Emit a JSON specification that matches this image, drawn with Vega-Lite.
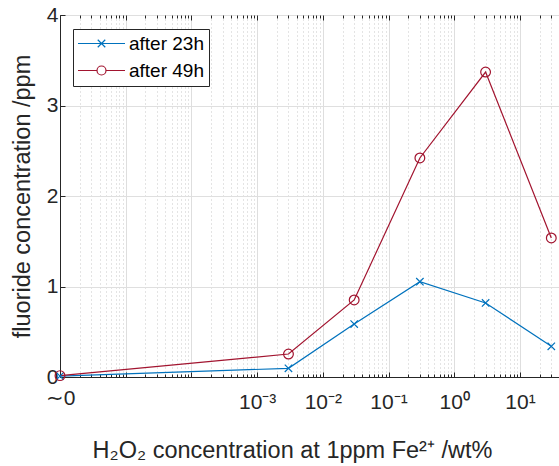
{
  "$schema": "https://vega.github.io/schema/vega-lite/v6.json",
  "width": 499,
  "height": 362,
  "autosize": "none",
  "padding": {"left": 60, "top": 15, "right": 0, "bottom": 89},
  "background": "white",
  "config": {
    "view": {"stroke": "#262626", "strokeWidth": 1},
    "font": "Liberation Sans",
    "axis": {"labelFont": "Liberation Sans", "titleFont": "Liberation Sans", "labelColor": "#262626", "titleColor": "#262626", "tickColor": "#262626", "domainColor": "#262626", "titleFontWeight": "normal"}
  },
  "data": {
    "values": [
      {"series": "after 23h", "x": 0.000001, "y": 0.01},
      {"series": "after 23h", "x": 0.003, "y": 0.096},
      {"series": "after 23h", "x": 0.03, "y": 0.585},
      {"series": "after 23h", "x": 0.3, "y": 1.053},
      {"series": "after 23h", "x": 3, "y": 0.818},
      {"series": "after 23h", "x": 30, "y": 0.339},
      {"series": "after 49h", "x": 0.000001, "y": 0.015},
      {"series": "after 49h", "x": 0.003, "y": 0.254},
      {"series": "after 49h", "x": 0.03, "y": 0.851},
      {"series": "after 49h", "x": 0.3, "y": 2.42},
      {"series": "after 49h", "x": 3, "y": 3.37},
      {"series": "after 49h", "x": 30, "y": 1.536}
    ]
  },
  "resolve": {"axis": {"x": "independent", "y": "independent"}, "legend": {"color": "independent", "shape": "independent"}, "scale": {"shape": "independent"}},
  "layer": [
    {
      "mark": {"type": "line", "opacity": 0},
      "encoding": {
        "x": {"field": "x", "type": "quantitative", "scale": {"type": "log", "domain": [0.000001, 39.3], "nice": false},
          "axis": {"orient": "bottom", "values": [2e-6,3e-6,4e-6,5e-6,6e-6,7e-6,8e-6,9e-6,2e-5,3e-5,4e-5,5e-5,6e-5,7e-5,8e-5,9e-5,2e-4,3e-4,4e-4,5e-4,6e-4,7e-4,8e-4,9e-4,0.002,0.003,0.004,0.005,0.006,0.007,0.008,0.009,0.02,0.03,0.04,0.05,0.06,0.07,0.08,0.09,0.2,0.3,0.4,0.5,0.6,0.7,0.8,0.9,2,3,4,5,6,7,8,9,20,30],
            "grid": true, "gridColor": "#c8c8c8", "gridDash": [1, 3], "labels": false, "ticks": true, "tickSize": -3, "domain": false, "title": null}},
        "y": {"field": "y", "type": "quantitative", "scale": {"domain": [0, 4], "nice": false},
          "axis": {"values": [0, 1, 2, 3, 4], "grid": true, "gridColor": "#dfdfdf", "tickSize": -5, "labelFontSize": 21, "labelPadding": 7, "title": "fluoride concentration /ppm", "titleFontSize": 23.5, "titleX": -31, "titleBaseline": "alphabetic"}},
        "detail": {"field": "series"}
      }
    },
    {
      "mark": {"type": "line", "strokeWidth": 1.2},
      "encoding": {
        "x": {"field": "x", "type": "quantitative", "scale": {"type": "log", "domain": [0.000001, 39.3], "nice": false},
          "axis": {"orient": "bottom", "values": [0.000001, 0.00001, 0.0001, 0.001, 0.01, 0.1, 1, 10],
            "grid": true, "gridColor": "#dedede", "tickSize": -5, "labelFontSize": 21,
            "labelPadding": {"condition": {"test": "datum.value < 2e-6", "value": 15}, "value": 19},
            "labelExpr": "datum.value < 2e-6 ? '∼0' : datum.value < 5e-4 ? '' : datum.value < 5e-3 ? '10⁻³' : datum.value < 5e-2 ? '10⁻²' : datum.value < 0.5 ? '10⁻¹' : datum.value < 5 ? '10⁰' : '10¹'",
            "labelFlush": false, "labelOverlap": false,
            "title": "H₂O₂ concentration at 1ppm Fe²⁺ /wt%", "titleFontSize": 23.5, "titleX": 232, "titleY": 80, "titleBaseline": "alphabetic"}},
        "y": {"field": "y", "type": "quantitative", "scale": {"domain": [0, 4], "nice": false}, "axis": null},
        "color": {"field": "series", "type": "nominal", "scale": {"domain": ["after 23h", "after 49h"], "range": ["#0072BD", "#A2142F"]}, "legend": null}
      }
    },
    {
      "mark": {"type": "line", "opacity": 0},
      "encoding": {
        "x": {"field": "x", "type": "quantitative", "scale": {"type": "log", "domain": [0.000001, 39.3], "nice": false},
          "axis": {"orient": "top", "values": [2e-6,3e-6,4e-6,5e-6,6e-6,7e-6,8e-6,9e-6,2e-5,3e-5,4e-5,5e-5,6e-5,7e-5,8e-5,9e-5,2e-4,3e-4,4e-4,5e-4,6e-4,7e-4,8e-4,9e-4,0.002,0.003,0.004,0.005,0.006,0.007,0.008,0.009,0.02,0.03,0.04,0.05,0.06,0.07,0.08,0.09,0.2,0.3,0.4,0.5,0.6,0.7,0.8,0.9,2,3,4,5,6,7,8,9,20,30],
            "grid": false, "labels": false, "ticks": true, "tickSize": -3, "domain": false, "title": null}},
        "y": {"field": "y", "type": "quantitative", "scale": {"domain": [0, 4], "nice": false}, "axis": null},
        "detail": {"field": "series"}
      }
    },
    {
      "mark": {"type": "point", "filled": false, "strokeWidth": 1.2, "opacity": 1},
      "encoding": {
        "x": {"field": "x", "type": "quantitative", "scale": {"type": "log", "domain": [0.000001, 39.3], "nice": false},
          "axis": {"orient": "top", "values": [0.000001, 0.00001, 0.0001, 0.001, 0.01, 0.1, 1, 10],
            "grid": false, "labels": false, "ticks": true, "tickSize": -5, "domain": false, "title": null}},
        "y": {"field": "y", "type": "quantitative", "scale": {"domain": [0, 4], "nice": false}, "axis": null},
        "color": {"field": "series", "type": "nominal", "scale": {"domain": ["after 23h", "after 49h"], "range": ["#0072BD", "#A2142F"]}, "legend": null},
        "shape": {"field": "series", "type": "nominal", "scale": {"domain": ["after 23h", "after 49h"], "range": ["M-1,-1L1,1M-1,1L1,-1", "circle"]}, "legend": null},
        "size": {"field": "series", "type": "nominal", "scale": {"domain": ["after 23h", "after 49h"], "range": [55, 95]}, "legend": null}
      }
    },
    {
      "transform": [{"filter": "datum.y > 100"}],
      "mark": {"type": "point", "filled": false, "strokeWidth": 1.2, "opacity": 1, "size": 100},
      "encoding": {
        "x": {"field": "x", "type": "quantitative", "scale": {"type": "log", "domain": [0.000001, 39.3], "nice": false}, "axis": null},
        "y": {"field": "y", "type": "quantitative", "scale": {"domain": [0, 4], "nice": false}, "axis": null},
        "color": {"field": "series", "type": "nominal", "scale": {"domain": ["after 23h", "after 49h"], "range": ["#0072BD", "#A2142F"]},
          "legend": {"title": null, "orient": "none", "legendX": 13, "legendY": 14, "strokeColor": "#262626", "fillColor": "white", "padding": 5, "rowPadding": 7,
            "labelFontSize": 19, "labelFont": "Liberation Sans", "labelColor": "#000000", "symbolSize": 100, "symbolOffset": 14, "labelOffset": 18, "symbolStrokeWidth": 1.2}},
        "shape": {"field": "series", "type": "nominal", "scale": {"domain": ["after 23h", "after 49h"], "range": ["M-4.7,0L4.7,0M-0.75,-0.75L0.75,0.75M-0.75,0.75L0.75,-0.75", "M-4.7,0L-0.9,0M0.9,0L4.7,0M-0.9,0A0.9,0.9,0,1,1,0.9,0A0.9,0.9,0,1,1,-0.9,0"]},
          "legend": {"title": null, "orient": "none", "legendX": 13, "legendY": 14, "strokeColor": "#262626", "fillColor": "white", "padding": 5, "rowPadding": 7,
            "labelFontSize": 19, "labelFont": "Liberation Sans", "labelColor": "#000000", "symbolSize": 100, "symbolOffset": 14, "labelOffset": 18, "symbolStrokeWidth": 1.2}}
      }
    }
  ]
}
